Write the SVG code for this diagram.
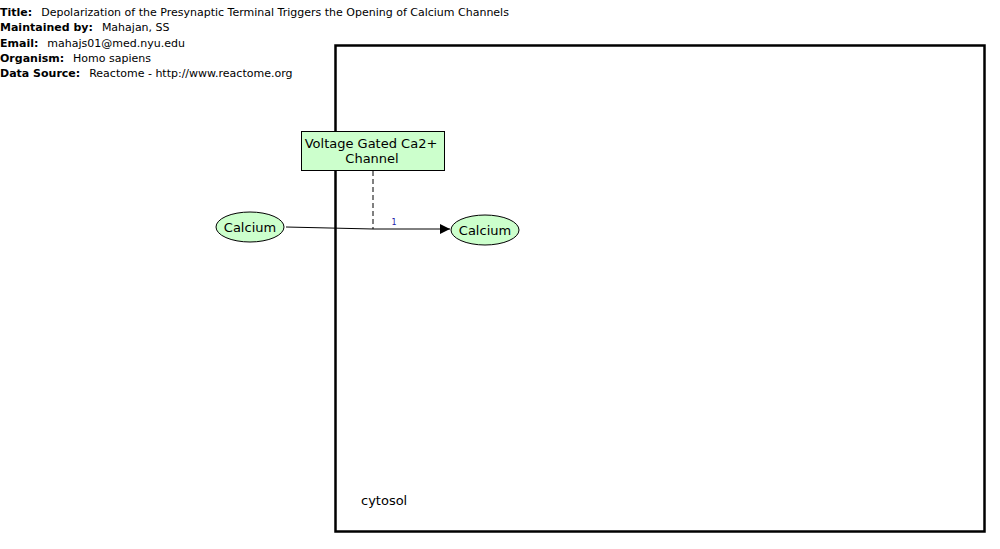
<svg xmlns="http://www.w3.org/2000/svg" width="1000" height="549" viewBox="0 0 1000 549">
<style>
.t{font-family:"DejaVu Sans",sans-serif;font-size:11px;fill:#000;white-space:pre}
.b{font-weight:bold}
.lbl{font-family:"DejaVu Sans",sans-serif;font-size:13px;fill:#000;text-anchor:middle}
.node{fill:#ccffcc;stroke:#000;stroke-width:1}
.edge{stroke:#000;stroke-width:1;fill:none}
</style>
<defs>
<marker id="arr" viewBox="0 0 10 10" refX="10" refY="5" markerWidth="12" markerHeight="10" markerUnits="userSpaceOnUse" orient="auto">
<path d="M0,0 L10,5 L0,10 z" fill="#000"/>
</marker>
</defs>
<g id="header">
<text class="t" x="0" y="16"><tspan class="b">Title:</tspan><tspan dx="9">Depolarization of the Presynaptic Terminal Triggers the Opening of Calcium Channels</tspan></text>
<text class="t" x="0" y="31"><tspan class="b">Maintained by:</tspan><tspan dx="9">Mahajan, SS</tspan></text>
<text class="t" x="0" y="47"><tspan class="b">Email:</tspan><tspan dx="9">mahajs01@med.nyu.edu</tspan></text>
<text class="t" x="0" y="62"><tspan class="b">Organism:</tspan><tspan dx="9">Homo sapiens</tspan></text>
<text class="t" x="0" y="77"><tspan class="b">Data Source:</tspan><tspan dx="9">Reactome - http://www.reactome.org</tspan></text>
</g>
<g id="cytosol">
<rect x="335.5" y="45.5" width="649" height="486" fill="none" stroke="#000" stroke-width="2.5"/>
<text x="361" y="505" style="font-family:'DejaVu Sans',sans-serif;font-size:13px">cytosol</text>
</g>
<g id="connectors">
<path class="edge" d="M286,227 L373,229 L450,229" marker-end="url(#arr)"/>
<path class="edge" d="M373,171 L373,229" stroke-dasharray="5,3"/>
<text x="394" y="225" style="font-family:'DejaVu Sans',sans-serif;font-size:8px;fill:#2222aa" text-anchor="middle">1</text>
</g>
<g id="channel">
<rect class="node" x="301.5" y="131.5" width="143" height="39"/>
<text class="lbl" x="371" y="148">Voltage Gated Ca2+</text>
<text class="lbl" x="372" y="163">Channel</text>
</g>
<g id="calcium1">
<ellipse class="node" cx="250" cy="227" rx="34" ry="15"/>
<text class="lbl" x="250" y="232">Calcium</text>
</g>
<g id="calcium2">
<ellipse class="node" cx="485" cy="230" rx="34" ry="15"/>
<text class="lbl" x="485" y="235">Calcium</text>
</g>
</svg>
